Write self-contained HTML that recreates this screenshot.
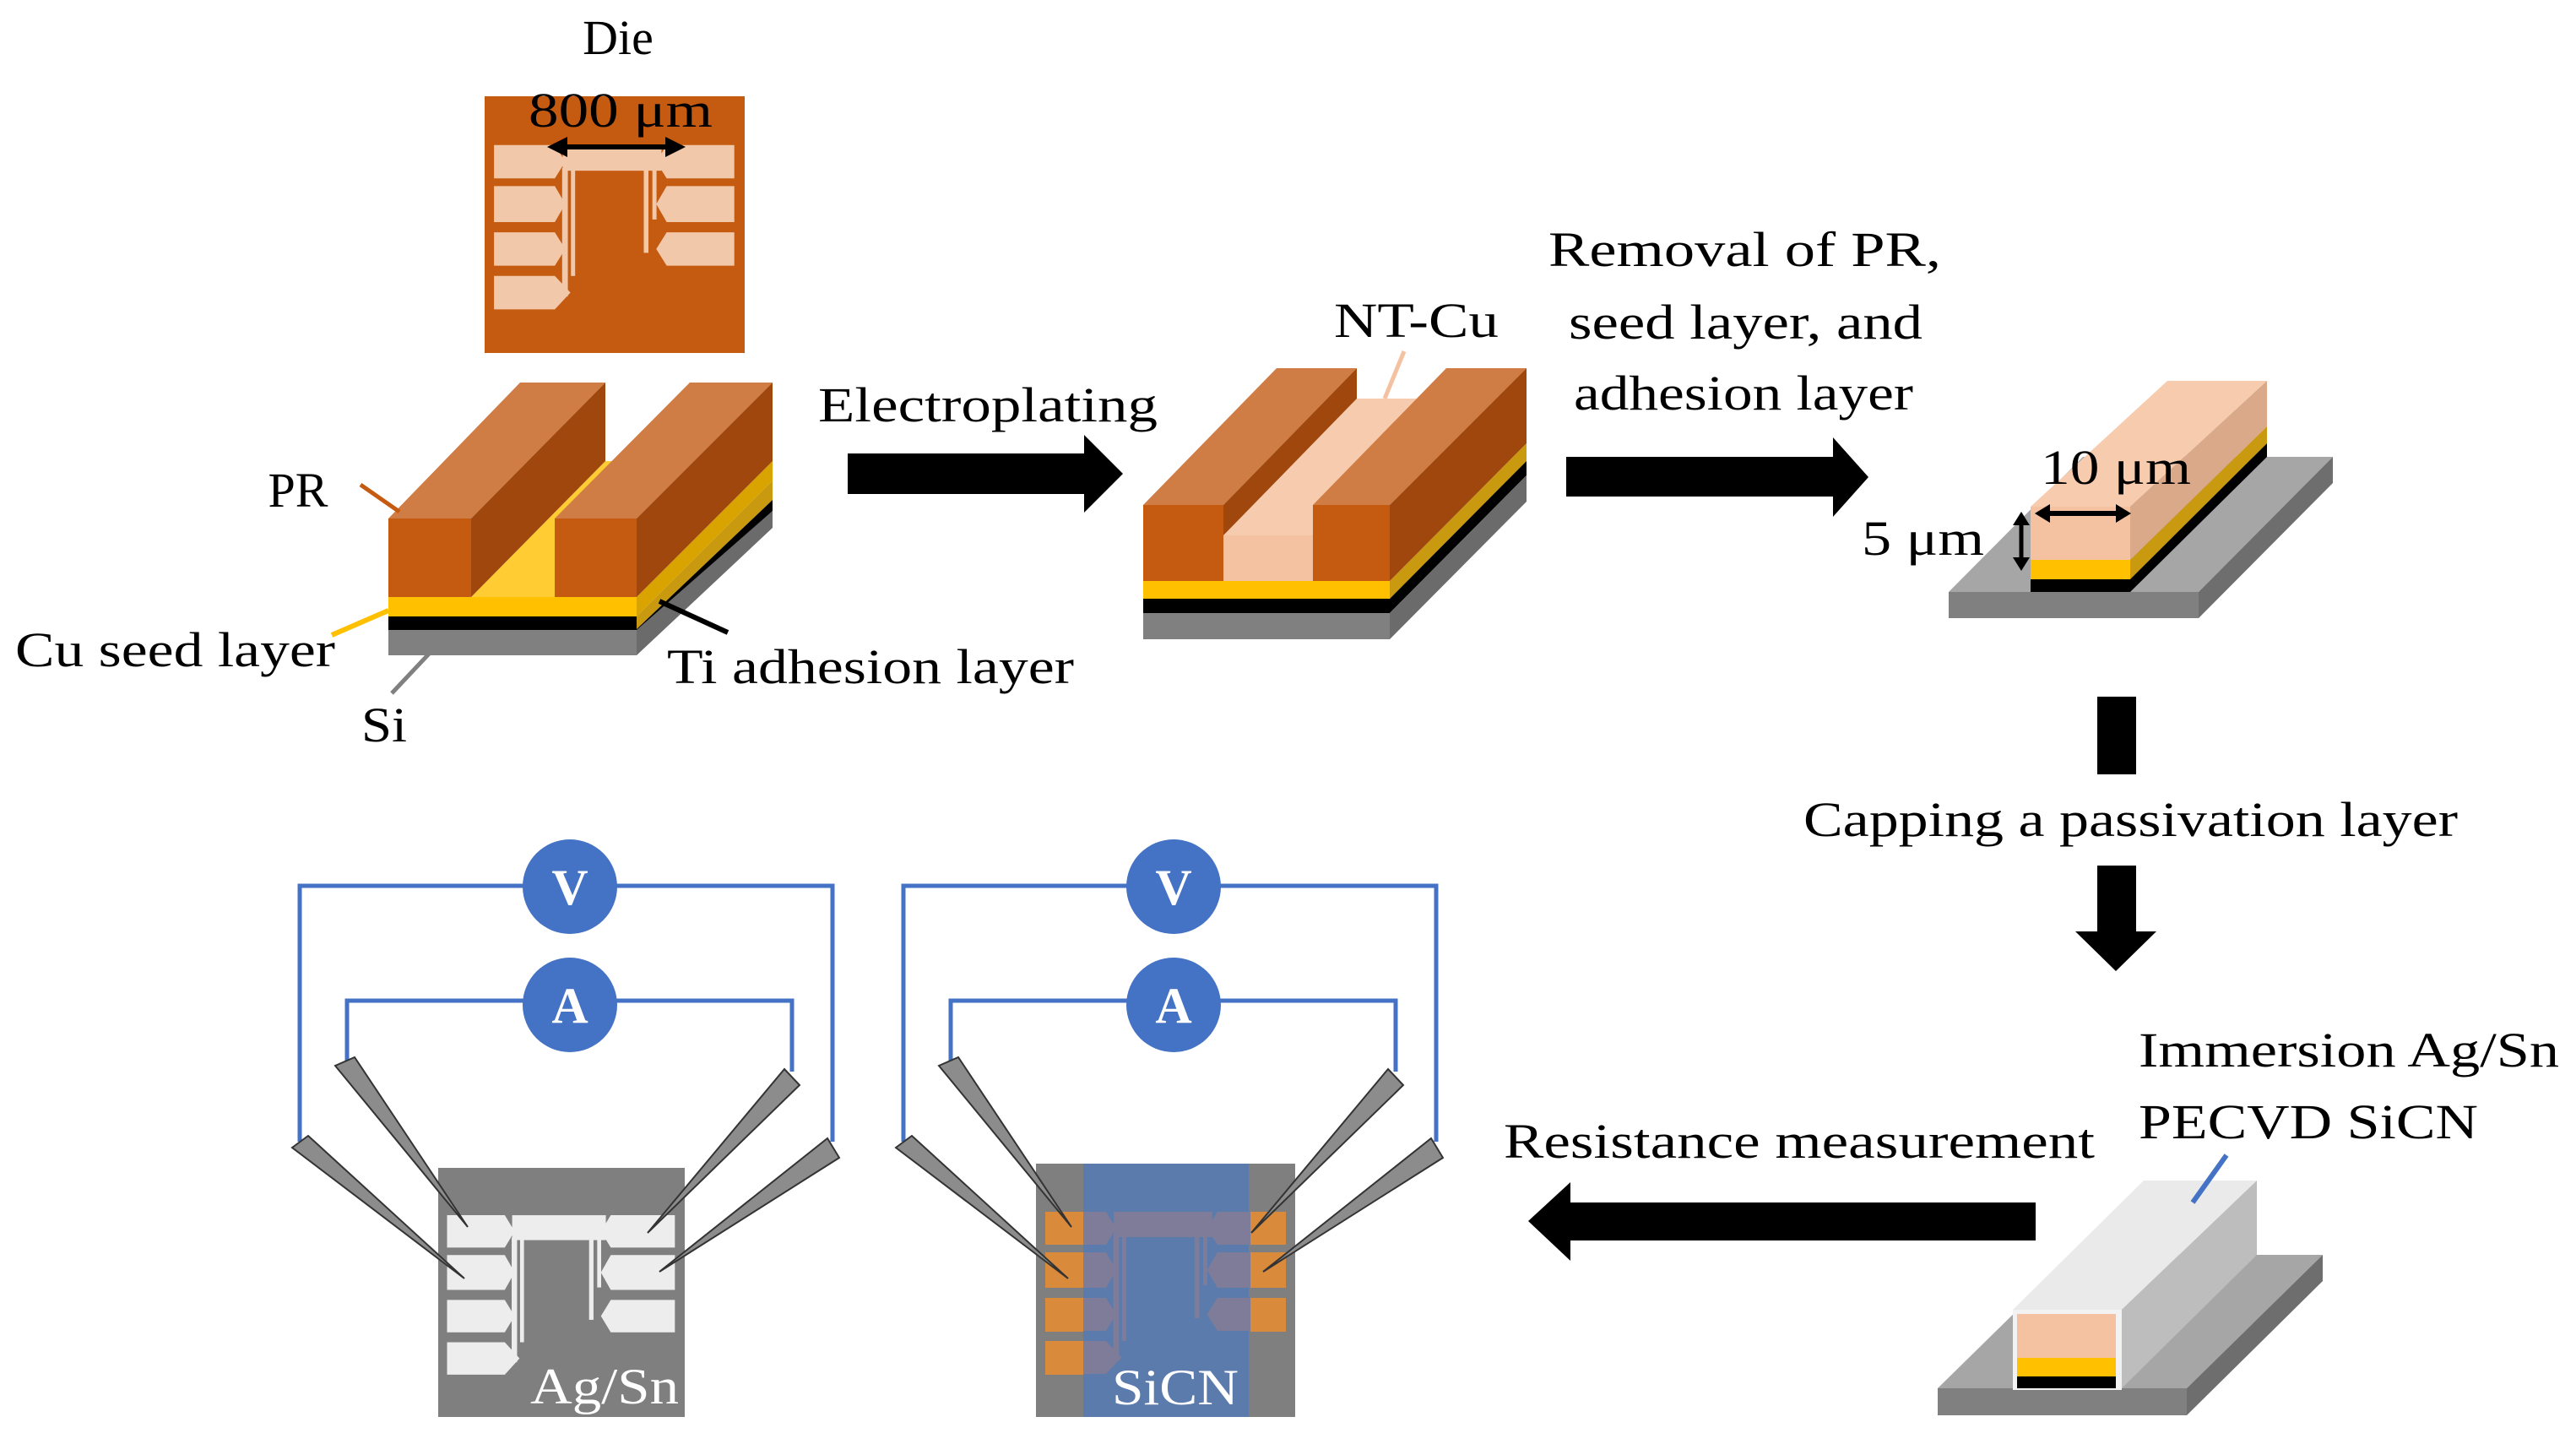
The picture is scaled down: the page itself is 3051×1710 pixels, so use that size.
<!DOCTYPE html>
<html><head><meta charset="utf-8"><style>
html,body{margin:0;padding:0;background:#fff;}
svg{display:block;}
text{font-family:"Liberation Serif",serif;fill:#000;}
</style></head><body>
<svg width="3051" height="1710" viewBox="0 0 3051 1710" xmlns="http://www.w3.org/2000/svg">
<defs>
<g id="pat">
<rect x="300" y="190" width="380" height="100"/>
<polygon points="36,190 270,190 310,255 270,320 36,320"/>
<polygon points="36,350 270,350 310,420 270,490 36,490"/>
<polygon points="36,530 270,530 310,595 270,660 36,660"/>
<polygon points="36,700 270,700 330,765 270,830 36,830"/>
<polygon points="960,190 700,190 660,255 700,320 960,320"/>
<polygon points="960,350 700,350 660,420 700,490 960,490"/>
<polygon points="960,530 700,530 660,595 700,660 960,660"/>
<rect x="298" y="280" width="22" height="500"/>
<rect x="332" y="280" width="16" height="420"/>
<rect x="612" y="280" width="18" height="330"/>
<rect x="645" y="280" width="16" height="200"/>
</g>
</defs>

<!-- Die -->
<text x="732" y="64" font-size="58" text-anchor="middle">Die</text>
<rect x="574" y="114" width="308" height="304" fill="#C55A11"/>
<use href="#pat" fill="#F1C9AA" transform="translate(574,114) scale(0.308,0.304)"/>
<text x="735" y="150" font-size="58" text-anchor="middle" textLength="218" lengthAdjust="spacingAndGlyphs">800 μm</text>
<line x1="665" y1="174" x2="795" y2="174" stroke="#000" stroke-width="6"/>
<polygon points="648,174 672,162 672,186"/><polygon points="812,174 788,162 788,186"/>

<!-- Structure 1 -->
<polygon points="754,730 915,569 915,592 754,745" fill="#C99A10"/>
<polygon points="754,745 915,592 915,605 754,760" fill="#000"/>
<polygon points="754,746 915,605 915,625 754,776" fill="#6B6B6B"/>
<rect x="460" y="707" width="294" height="23" fill="#FFC000"/>
<rect x="460" y="730" width="294" height="16" fill="#000"/>
<rect x="460" y="746" width="294" height="30" fill="#808080"/>
<polygon points="558,707 657,707 818,546 717,546" fill="#FFCC33"/>
<polygon points="754,707 915,546 915,569 754,730" fill="#D9A300"/>
<!-- left PR -->
<polygon points="460,614 558,614 717,453 616,453" fill="#D07C45"/>
<polygon points="558,614 717,453 717,546 558,707" fill="#A0470D"/>
<rect x="460" y="614" width="98" height="93" fill="#C55A11"/>
<!-- right PR -->
<polygon points="657,614 754,614 915,453 817,453" fill="#D07C45"/>
<polygon points="754,614 915,453 915,546 754,707" fill="#A0470D"/>
<rect x="657" y="614" width="97" height="93" fill="#C55A11"/>
<!-- labels -->
<text x="353" y="600" font-size="58" text-anchor="middle">PR</text>
<line x1="427" y1="574" x2="473" y2="606" stroke="#C55A11" stroke-width="5"/>
<text x="18" y="789" font-size="58" textLength="379" lengthAdjust="spacingAndGlyphs">Cu seed layer</text>
<line x1="393" y1="752" x2="460" y2="723" stroke="#FFC000" stroke-width="6"/>
<text x="790" y="809" font-size="58" textLength="482" lengthAdjust="spacingAndGlyphs">Ti adhesion layer</text>
<line x1="862" y1="749" x2="781" y2="712" stroke="#000" stroke-width="6"/>
<text x="428" y="878" font-size="58" textLength="54" lengthAdjust="spacingAndGlyphs">Si</text>
<line x1="464" y1="821" x2="513" y2="769" stroke="#808080" stroke-width="5"/>

<!-- Arrow 1 -->
<text x="969" y="499" font-size="58" textLength="402" lengthAdjust="spacingAndGlyphs">Electroplating</text>
<rect x="1004" y="537" width="284" height="48"/>
<polygon points="1284,515 1330,561 1284,607"/>

<!-- Structure 2 -->
<polygon points="1646,688 1808,525 1808,546 1646,709" fill="#C99A10"/>
<polygon points="1646,709 1808,546 1808,563 1646,726" fill="#000"/>
<polygon points="1646,726 1808,563 1808,594 1646,757" fill="#6B6B6B"/>
<rect x="1354" y="688" width="292" height="21" fill="#FFC000"/>
<rect x="1354" y="709" width="292" height="17" fill="#000"/>
<rect x="1354" y="726" width="292" height="31" fill="#808080"/>
<polygon points="1354,598 1449,598 1607,436 1512,436" fill="#D07C45"/>
<polygon points="1449,634 1555,634 1713,472 1607,472" fill="#F7CBAD"/>
<polygon points="1449,598 1607,436 1607,472 1449,634" fill="#A0470D"/>
<rect x="1354" y="598" width="95" height="90" fill="#C55A11"/>
<rect x="1449" y="634" width="106" height="54" fill="#F4C2A0"/>
<polygon points="1555,598 1646,598 1808,436 1713,436" fill="#D07C45"/>
<polygon points="1646,598 1808,436 1808,525 1646,688" fill="#A0470D"/>
<rect x="1555" y="598" width="91" height="90" fill="#C55A11"/>
<text x="1580" y="399" font-size="58" textLength="195" lengthAdjust="spacingAndGlyphs">NT-Cu</text>
<line x1="1663" y1="416" x2="1640" y2="472" stroke="#F4C2A0" stroke-width="5"/>

<!-- Removal text & arrow 2 -->
<text x="1834" y="315" font-size="58" textLength="465" lengthAdjust="spacingAndGlyphs">Removal of  PR,</text>
<text x="1858" y="401" font-size="58" textLength="419" lengthAdjust="spacingAndGlyphs">seed layer, and</text>
<text x="1864" y="485" font-size="58" textLength="402" lengthAdjust="spacingAndGlyphs">adhesion layer</text>
<rect x="1855" y="541" width="320" height="47"/>
<polygon points="2171,518 2213,565 2171,612"/>

<!-- Structure 3 -->
<polygon points="2308,701 2604,701 2763,541 2467,541" fill="#A6A6A6"/>
<polygon points="2604,701 2763,541 2763,572 2604,732" fill="#6E6E6E"/>
<rect x="2308" y="701" width="296" height="31" fill="#808080"/>
<polygon points="2405,600 2523,600 2685,451 2567,451" fill="#F7CBAD"/>
<polygon points="2523,600 2685,451 2685,505 2523,663" fill="#D9A98A"/>
<polygon points="2523,663 2685,505 2685,525 2523,686" fill="#C99A10"/>
<polygon points="2523,686 2685,525 2685,541 2523,701" fill="#000"/>
<rect x="2405" y="600" width="118" height="63" fill="#F4C2A0"/>
<rect x="2405" y="663" width="118" height="23" fill="#FFC000"/>
<rect x="2405" y="686" width="118" height="15" fill="#000"/>
<text x="2417" y="573" font-size="58" textLength="178" lengthAdjust="spacingAndGlyphs">10 μm</text>
<line x1="2425" y1="608" x2="2509" y2="608" stroke="#000" stroke-width="6"/>
<polygon points="2410,608 2428,597 2428,619"/><polygon points="2524,608 2506,597 2506,619"/>
<text x="2205" y="657" font-size="58" textLength="145" lengthAdjust="spacingAndGlyphs">5 μm</text>
<line x1="2394" y1="620" x2="2394" y2="662" stroke="#000" stroke-width="5"/>
<polygon points="2394,606 2384,622 2404,622"/><polygon points="2394,676 2384,660 2404,660"/>

<!-- Down arrows -->
<rect x="2484" y="825" width="46" height="92"/>
<text x="2136" y="990" font-size="58" textLength="775" lengthAdjust="spacingAndGlyphs">Capping a passivation layer</text>
<rect x="2484" y="1025" width="46" height="80"/>
<polygon points="2458,1103 2554,1103 2506,1150"/>

<!-- Final structure -->
<text x="2533" y="1263" font-size="58" textLength="498" lengthAdjust="spacingAndGlyphs">Immersion Ag/Sn</text>
<text x="2533" y="1348" font-size="58" textLength="402" lengthAdjust="spacingAndGlyphs">PECVD SiCN</text>
<polygon points="2295,1644 2590,1644 2751,1486 2456,1486" fill="#A6A6A6"/>
<polygon points="2590,1644 2751,1486 2751,1517 2590,1676" fill="#6E6E6E"/>
<rect x="2295" y="1644" width="295" height="32" fill="#808080"/>
<polygon points="2384,1551 2513,1551 2673,1398 2539,1398" fill="#EAEAEA"/>
<polygon points="2513,1551 2673,1398 2673,1486 2513,1644" fill="#BDBDBD"/>
<rect x="2384" y="1551" width="129" height="95" fill="#F2F2F2"/>
<rect x="2389" y="1556" width="117" height="52" fill="#F4C2A0"/>
<rect x="2389" y="1608" width="117" height="22" fill="#FFC000"/>
<rect x="2389" y="1630" width="117" height="14" fill="#000"/>
<line x1="2637" y1="1368" x2="2597" y2="1424" stroke="#4472C4" stroke-width="6"/>

<!-- Left arrow -->
<text x="1781" y="1371" font-size="58" textLength="700" lengthAdjust="spacingAndGlyphs">Resistance measurement</text>
<rect x="1856" y="1424" width="555" height="45"/>
<polygon points="1860,1400 1810,1446 1860,1493"/>

<!-- Panel 1 -->
<g fill="none" stroke="#4472C4" stroke-width="5">
<polyline points="355,1352 355,1049 986,1049 986,1352"/>
<polyline points="411,1259 411,1185 938,1185 938,1269"/>
<polyline points="1070,1352 1070,1049 1701,1049 1701,1352"/>
<polyline points="1126,1259 1126,1185 1653,1185 1653,1269"/>
</g>
<circle cx="675" cy="1050" r="56" fill="#4472C4"/>
<circle cx="675" cy="1190" r="56" fill="#4472C4"/>
<text x="675" y="1071" font-size="60" font-weight="bold" text-anchor="middle" style="fill:#fff">V</text>
<text x="675" y="1211" font-size="60" font-weight="bold" text-anchor="middle" style="fill:#fff">A</text>
<circle cx="1390" cy="1050" r="56" fill="#4472C4"/>
<circle cx="1390" cy="1190" r="56" fill="#4472C4"/>
<text x="1390" y="1071" font-size="60" font-weight="bold" text-anchor="middle" style="fill:#fff">V</text>
<text x="1390" y="1211" font-size="60" font-weight="bold" text-anchor="middle" style="fill:#fff">A</text>

<rect x="519" y="1383" width="292" height="295" fill="#7F7F7F"/>
<use href="#pat" fill="#EDEDED" transform="translate(519,1383) scale(0.292,0.295)"/>
<text x="628" y="1662" font-size="60" textLength="176" lengthAdjust="spacingAndGlyphs" style="fill:#fff">Ag/Sn</text>

<!-- Panel 2 die -->
<rect x="1227" y="1378" width="307" height="300" fill="#7F7F7F"/>
<rect x="1283" y="1378" width="196" height="300" fill="#5B7BAD"/>
<use href="#pat" fill="#7E7C98" transform="translate(1227,1378) scale(0.307,0.300)"/>
<g fill="#D98A3A">
<rect x="1238" y="1435" width="45" height="39"/><rect x="1238" y="1483" width="45" height="42"/>
<rect x="1238" y="1537" width="45" height="40"/><rect x="1238" y="1588" width="45" height="40"/>
<rect x="1481" y="1435" width="42" height="39"/><rect x="1481" y="1483" width="42" height="42"/>
<rect x="1481" y="1537" width="42" height="40"/>
</g>
<text x="1317" y="1663" font-size="60" textLength="150" lengthAdjust="spacingAndGlyphs" style="fill:#fff">SiCN</text>

<!-- Probes -->
<g fill="#8C8C8C" stroke="#333" stroke-width="2">
<polygon points="346,1359 365,1345 550,1514"/>
<polygon points="397,1262 420,1252 554,1453"/>
<polygon points="929,1266 947,1285 767,1460"/>
<polygon points="980,1348 994,1371 781,1506"/>
<g transform="translate(715,0)">
<polygon points="346,1359 365,1345 550,1514"/>
<polygon points="397,1262 420,1252 554,1453"/>
<polygon points="929,1266 947,1285 767,1460"/>
<polygon points="980,1348 994,1371 781,1506"/>
</g>
</g>
</svg>
</body></html>
